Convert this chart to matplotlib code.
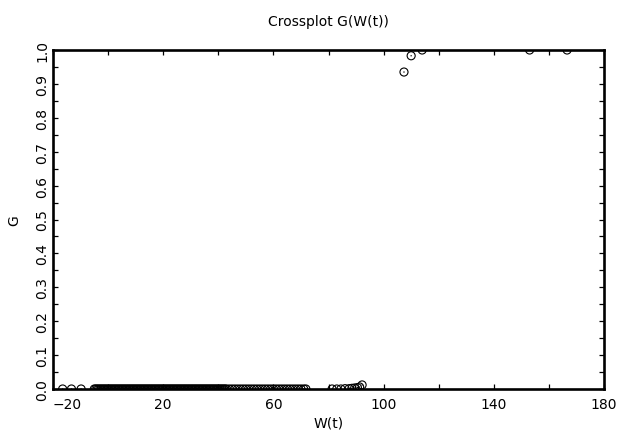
import matplotlib
matplotlib.use("Agg")
import matplotlib.pyplot as plt
from matplotlib.ticker import MultipleLocator, FixedLocator

# Data
# points lying on G = 0
w_flat = [-16.5, -13.3, -9.8,
          -5.0, -4.5, -4.0, -3.5, -3.0, -2.5, -2.0, -1.5, -1.0, -0.5,
          0.0, 0.5, 1.0, 1.5, 2.0, 2.5, 3.0, 3.5, 4.0, 4.5, 5.0, 5.5,
          6.0, 6.5, 7.0, 7.5, 8.0, 8.5, 9.0, 9.5, 10.0, 10.5, 11.0, 11.5,
          12.0, 12.5, 13.0, 13.5, 14.0, 14.5, 15.0, 15.5, 16.0, 16.5,
          17.0, 17.5, 18.0, 18.5, 19.0, 19.5, 20.0, 20.5, 21.0, 21.5,
          22.0, 22.5, 23.0, 23.5, 24.0, 24.5, 25.0, 25.5, 26.0, 26.5,
          27.0, 27.5, 28.0, 28.5, 29.0, 29.5, 30.0, 30.5, 31.0, 31.5,
          32.0, 32.5, 33.0, 33.5, 34.0, 34.5, 35.0, 35.5, 36.0, 36.5,
          37.0, 37.5, 38.0, 38.5, 39.0, 39.5, 40.0, 40.5, 41.0, 41.5,
          42.0, 42.5, 43.0, 44.0, 45.0, 46.0, 47.0, 48.0, 49.0, 50.0,
          51.0, 52.0, 53.0, 54.0, 55.0, 56.0, 57.0, 58.0, 59.0, 60.0,
          61.0, 62.0, 63.0, 64.0, 65.0, 66.0, 67.0, 68.0, 69.0, 70.0,
          71.0, 71.8]
g_flat = [0.0 for _ in w_flat]
# points just starting to rise
w_rise = [81.3, 83.0, 84.5, 86.0, 87.5, 88.5, 89.5, 90.5, 91.3, 92.2]
g_rise = [0.0, 0.0, 0.0, 0.001, 0.001, 0.002, 0.003, 0.004, 0.006, 0.012]
# points near G = 1
w_high = [107.4, 110.0, 114.0, 153.0, 166.6]
g_high = [0.935, 0.983, 1.0, 1.0, 1.0]

w_values = w_flat + w_rise + w_high
g_values = g_flat + g_rise + g_high

title_text = "Crossplot G(W(t))"
x_label = "W(t)"
y_label = "G"
x_major = [-20, 20, 60, 100, 140, 180]
y_major = [0.0, 0.1, 0.2, 0.3, 0.4, 0.5, 0.6, 0.7, 0.8, 0.9, 1.0]

plt.rcParams['font.family'] = ['DejaVu Sans']

fig = plt.figure(figsize=(6.17, 4.35), dpi=100)
ax = fig.add_axes([53 / 617, 1 - 390 / 435, 551 / 617, 339 / 435])

sc1 = ax.scatter(w_values, g_values, s=5.8 ** 2, marker='o',
                 facecolors='none', edgecolors='black', linewidths=0.8)
sc2 = ax.scatter(w_values, g_values, s=1.0 ** 2, marker='o',
                 facecolors='black', edgecolors='none')
sc1.set_clip_path(ax.patch)
sc2.set_clip_path(ax.patch)

ax.set_xlim(-20, 180)
ax.set_ylim(0, 1)

ax.xaxis.set_major_locator(FixedLocator(x_major))
ax.set_xticklabels([f"{v:g}".replace('-', '\u2212') for v in x_major])
ax.xaxis.set_minor_locator(MultipleLocator(20))
ax.yaxis.set_major_locator(FixedLocator(y_major))
ax.set_yticklabels([f"{v:.1f}" for v in y_major], rotation=90, va='center')
ax.yaxis.set_minor_locator(MultipleLocator(0.05))

ax.tick_params(which='both', direction='in', top=True, right=True,
               length=3.8, width=0.9, labelsize=10, color='black')
ax.tick_params(axis='x', which='major', pad=6)
ax.tick_params(axis='y', which='major', pad=2.5)

first = ax.get_xticklabels()[0]
first.set_horizontalalignment('left')

for s in ax.spines.values():
    s.set_linewidth(1.9)
    s.set_zorder(5)

ax.set_title(title_text, fontsize=10, pad=18)
ax.set_xlabel(x_label, fontsize=10, labelpad=3)
ax.set_ylabel(y_label, fontsize=10, labelpad=10)

fig.savefig("out.png", dpi=100)
